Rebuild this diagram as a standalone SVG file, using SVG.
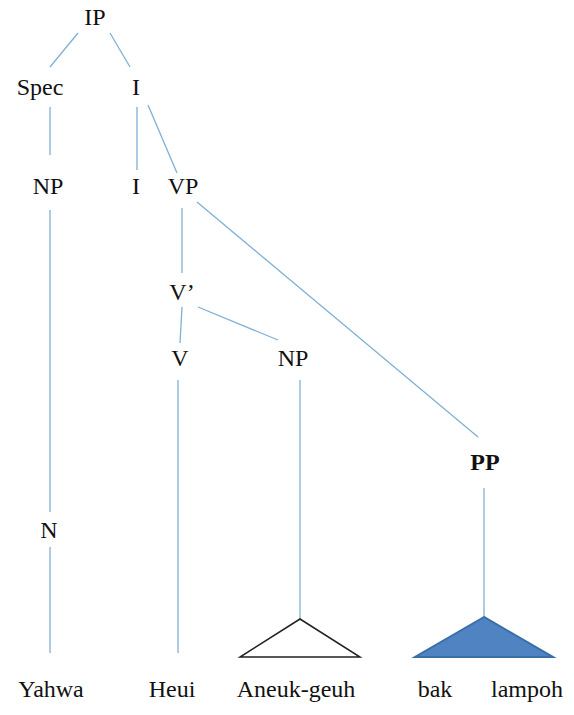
<svg xmlns="http://www.w3.org/2000/svg" width="574" height="715" viewBox="0 0 574 715">
<style>
.t{font-family:'Liberation Serif','Times New Roman',serif;font-size:24px;fill:#111;text-anchor:middle}
.b{font-weight:bold}
.e{stroke:#7fb0d5;stroke-width:1.3;fill:none}
</style>
<rect width="574" height="715" fill="#fff"/>
<g id="connectors">
<line class="e" x1="78" y1="33" x2="50" y2="67"/>
<line class="e" x1="110" y1="33" x2="130" y2="67"/>
<line class="e" x1="50" y1="107" x2="50" y2="155"/>
<line class="e" x1="137" y1="107" x2="137" y2="170"/>
<line class="e" x1="148" y1="105" x2="177" y2="173"/>
<line class="e" x1="50" y1="210" x2="50" y2="512"/>
<line class="e" x1="50" y1="547" x2="50" y2="653"/>
<line class="e" x1="182" y1="208" x2="182" y2="273"/>
<line class="e" x1="197" y1="202" x2="478" y2="437"/>
<line class="e" x1="182" y1="307" x2="180" y2="343"/>
<line class="e" x1="198" y1="307" x2="278" y2="340"/>
<line class="e" x1="178" y1="380" x2="178" y2="653"/>
<line class="e" x1="300" y1="380" x2="300" y2="619"/>
<line class="e" x1="484" y1="488" x2="484" y2="617"/>
</g>
<g id="tri1"><polygon points="300,619 240,657 360,657" fill="#fff" stroke="#222" stroke-width="1.5"/></g>
<g id="tri2"><polygon points="484,617 415,657 553,657" fill="#4f83c2" stroke="#3b6ea8" stroke-width="2"/></g>
<g font-family="Liberation Serif, serif">
<g id="n-ip"><text class="t" x="95" y="25">IP</text></g>
<g id="n-spec"><text class="t" x="40" y="95">Spec</text></g>
<g id="n-ibar"><text class="t" x="136" y="95">I</text></g>
<g id="n-np1"><text class="t" x="48" y="194">NP</text></g>
<g id="n-i"><text class="t" x="136" y="194">I</text></g>
<g id="n-vp"><text class="t" x="183" y="194">VP</text></g>
<g id="n-vbar"><text class="t" x="182" y="300">V’</text></g>
<g id="n-v"><text class="t" x="180" y="366">V</text></g>
<g id="n-np2"><text class="t" x="293" y="366">NP</text></g>
<g id="n-pp"><text class="t b" x="485" y="470">PP</text></g>
<g id="n-n"><text class="t" x="49" y="538">N</text></g>
<g id="w-yahwa"><text class="t" x="51" y="697">Yahwa</text></g>
<g id="w-heui"><text class="t" x="172" y="697">Heui</text></g>
<g id="w-aneuk"><text class="t" x="296" y="697">Aneuk-geuh</text></g>
<g id="w-bak"><text class="t" x="435" y="697">bak</text></g>
<g id="w-lampoh"><text class="t" x="527" y="697">lampoh</text></g>
</g>
</svg>
